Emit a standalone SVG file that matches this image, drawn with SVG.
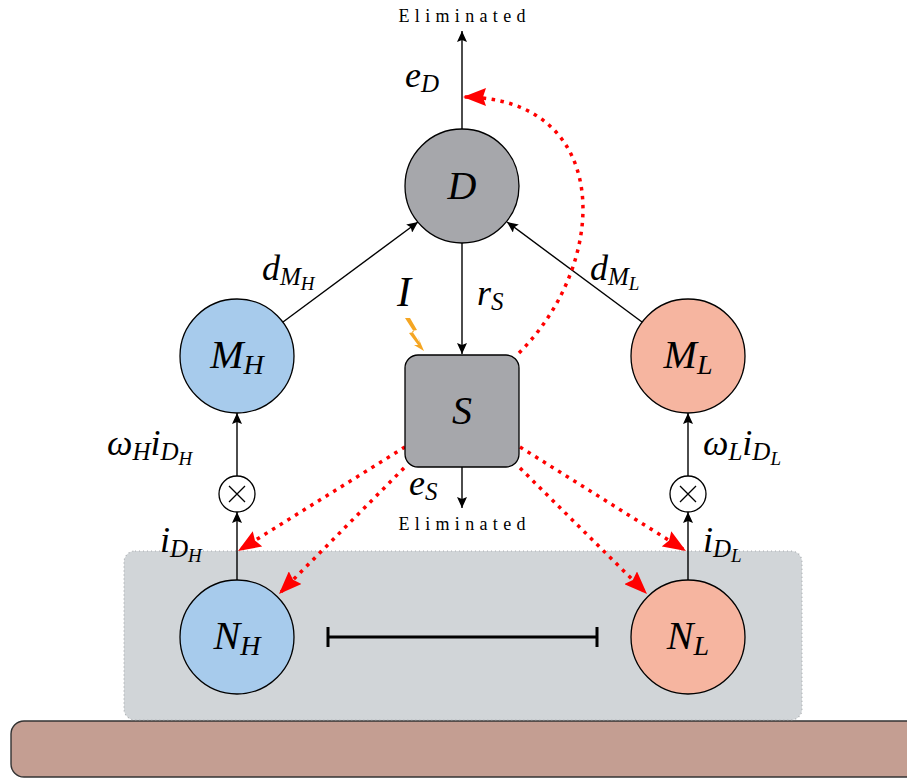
<svg xmlns="http://www.w3.org/2000/svg" width="907" height="778" viewBox="0 0 907 778" font-family="Liberation Serif">
<defs>
<marker id="ab" markerUnits="userSpaceOnUse" markerWidth="12" markerHeight="10" refX="11" refY="5" orient="auto">
<path d="M0,0 L11,5 L0,10 L2,5 z" fill="#000"/>
</marker>
<marker id="ar" markerUnits="userSpaceOnUse" markerWidth="24" markerHeight="18" refX="23" refY="9" orient="auto">
<path d="M0,0 L23,9 L0,18 L3,9 z" fill="#ff0000"/>
</marker>
</defs>
<g id="ground">
<rect x="11" y="721" width="910" height="56" rx="13" fill="#c49e92" stroke="#333" stroke-width="1.4"/>
</g>
<g id="cell">
<rect x="124" y="551" width="678" height="169" rx="11" fill="#d1d5d8" stroke="#a9acb0" stroke-width="1.2" stroke-dasharray="1 3"/>
</g>
<g id="connectors">
<g stroke="#000" stroke-width="1.4" fill="none">
<line x1="462" y1="129" x2="462" y2="31" marker-end="url(#ab)"/>
<line x1="462" y1="243" x2="462" y2="354" marker-end="url(#ab)"/>
<line x1="462" y1="467" x2="462" y2="508" marker-end="url(#ab)"/>
<line x1="283" y1="322" x2="418" y2="222" marker-end="url(#ab)"/>
<line x1="642" y1="322" x2="507" y2="222" marker-end="url(#ab)"/>
<line x1="237" y1="476" x2="237" y2="413" marker-end="url(#ab)"/>
<line x1="237" y1="580" x2="237" y2="512" marker-end="url(#ab)"/>
<line x1="688" y1="476" x2="688" y2="413" marker-end="url(#ab)"/>
<line x1="688" y1="580" x2="688" y2="512" marker-end="url(#ab)"/>
</g>
<g stroke="#000" stroke-width="3">
<line x1="328" y1="637" x2="597" y2="637"/>
<line x1="328" y1="627" x2="328" y2="647"/>
<line x1="597" y1="627" x2="597" y2="647"/>
</g>
<g stroke="#ff0000" stroke-width="3.5" fill="none" stroke-dasharray="3.5 5.5">
<path d="M519,353 C612,260 612,97 463,97" marker-end="url(#ar)"/>
<line x1="405" y1="447" x2="238" y2="551" marker-end="url(#ar)"/>
<line x1="404" y1="468" x2="279" y2="594" marker-end="url(#ar)"/>
<line x1="520" y1="447" x2="686" y2="551" marker-end="url(#ar)"/>
<line x1="520" y1="468" x2="647" y2="594" marker-end="url(#ar)"/>
</g>
<polygon points="405,318 410,318 417,330 412,331 420,343 418,337 424,351 414,345 418,345 409,333 414,332" fill="#f5a623"/>
</g>
<g id="D">
<circle cx="462" cy="186" r="57" fill="#a6a7ab" stroke="#000" stroke-width="1.3"/>
<text x="462" y="199" font-family="Liberation Serif" font-style="italic" font-size="40" text-anchor="middle">D</text>
</g>
<g id="S">
<rect x="405" y="355" width="114" height="112" rx="13" fill="#a6a7ab" stroke="#000" stroke-width="1.3"/>
<text x="462" y="424" font-family="Liberation Serif" font-style="italic" font-size="40" text-anchor="middle">S</text>
</g>
<g id="MH">
<circle cx="237" cy="356" r="57" fill="#a7cbec" stroke="#000" stroke-width="1.3"/>
<text x="237" y="368" font-family="Liberation Serif" font-style="italic" font-size="40" text-anchor="middle">M<tspan font-size="28" dy="6">H</tspan></text>
</g>
<g id="ML">
<circle cx="688" cy="356" r="57" fill="#f6b5a0" stroke="#000" stroke-width="1.3"/>
<text x="688" y="368" font-family="Liberation Serif" font-style="italic" font-size="40" text-anchor="middle">M<tspan font-size="28" dy="6">L</tspan></text>
</g>
<g id="NH">
<circle cx="237" cy="637" r="57" fill="#a7cbec" stroke="#000" stroke-width="1.3"/>
<text x="237" y="649" font-family="Liberation Serif" font-style="italic" font-size="40" text-anchor="middle">N<tspan font-size="28" dy="6">H</tspan></text>
</g>
<g id="NL">
<circle cx="688" cy="637" r="57" fill="#f6b5a0" stroke="#000" stroke-width="1.3"/>
<text x="688" y="649" font-family="Liberation Serif" font-style="italic" font-size="40" text-anchor="middle">N<tspan font-size="28" dy="6">L</tspan></text>
</g>
<g id="otimesH">
<circle cx="237" cy="494" r="18" fill="#fff" stroke="#000" stroke-width="1.3"/>
<path d="M229,486 L245,502 M245,486 L229,502" stroke="#000" stroke-width="1.3"/>
</g>
<g id="otimesL">
<circle cx="688" cy="494" r="18" fill="#fff" stroke="#000" stroke-width="1.3"/>
<path d="M680,486 L696,502 M696,486 L680,502" stroke="#000" stroke-width="1.3"/>
</g>
<text x="462" y="22" font-family="Liberation Serif" font-size="18" text-anchor="middle" textLength="127" lengthAdjust="spacing">Eliminated</text>
<text x="462" y="530" font-family="Liberation Serif" font-size="18" text-anchor="middle" textLength="127" lengthAdjust="spacing">Eliminated</text>
<text x="405" y="87" font-family="Liberation Serif" font-style="italic" font-size="36">e<tspan font-size="25" dy="5">D</tspan></text>
<text x="477" y="305" font-family="Liberation Serif" font-style="italic" font-size="36">r<tspan font-size="25" dy="5">S</tspan></text>
<text x="409" y="495" font-family="Liberation Serif" font-style="italic" font-size="36">e<tspan font-size="25" dy="5">S</tspan></text>
<text x="397" y="306" font-family="Liberation Serif" font-style="italic" font-size="42">I</text>
<text x="262" y="280" font-family="Liberation Serif" font-style="italic" font-size="36">d<tspan font-size="25" dy="5">M</tspan><tspan font-size="19" dy="5">H</tspan></text>
<text x="590" y="280" font-family="Liberation Serif" font-style="italic" font-size="36">d<tspan font-size="25" dy="5">M</tspan><tspan font-size="19" dy="5">L</tspan></text>
<text x="107" y="455" font-family="Liberation Serif" font-style="italic" font-size="36">ω<tspan font-size="25" dy="5">H</tspan><tspan dy="-5">i</tspan><tspan font-size="25" dy="5">D</tspan><tspan font-size="19" dy="5">H</tspan></text>
<text x="703" y="455" font-family="Liberation Serif" font-style="italic" font-size="36">ω<tspan font-size="25" dy="5">L</tspan><tspan dy="-5">i</tspan><tspan font-size="25" dy="5">D</tspan><tspan font-size="19" dy="5">L</tspan></text>
<text x="160" y="552" font-family="Liberation Serif" font-style="italic" font-size="36">i<tspan font-size="25" dy="5">D</tspan><tspan font-size="19" dy="5">H</tspan></text>
<text x="703" y="552" font-family="Liberation Serif" font-style="italic" font-size="36">i<tspan font-size="25" dy="5">D</tspan><tspan font-size="19" dy="5">L</tspan></text>
</svg>
